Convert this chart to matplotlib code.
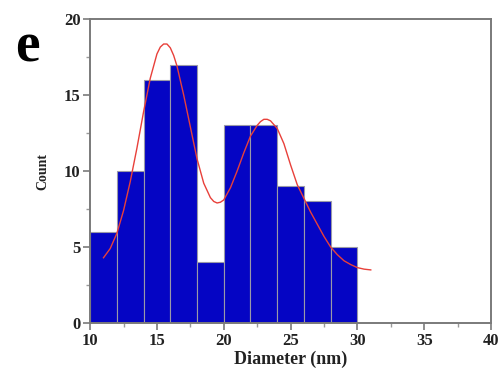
"""
Histogram of particle diameters with a two-peak fit curve.
"""
import matplotlib
matplotlib.use("Agg")
import matplotlib.pyplot as plt
from matplotlib.ticker import MultipleLocator

# histogram bins (nm) and counts
bin_left = [10, 12, 14, 16, 18, 20, 22, 24, 26, 28]
counts = [6, 10, 16, 17, 4, 13, 13, 9, 8, 5]
bin_width = 2

# fitted curve
fit_x = [11.0, 11.5, 12.0, 12.5, 13.0, 13.5, 14.0, 14.5, 15.0, 15.25,
         15.5, 15.75, 16.0, 16.25, 16.5, 17.0, 17.5, 18.0, 18.5, 19.0,
         19.25, 19.5, 19.75, 20.0, 20.5, 21.0, 21.5, 22.0, 22.5, 22.75,
         23.0, 23.25, 23.5, 24.0, 24.5, 25.0, 25.5, 26.0, 26.5, 27.0,
         27.5, 28.0, 28.5, 29.0, 29.5, 30.0, 30.5, 31.0]
fit_y = [4.3, 4.9, 5.9, 7.4, 9.3, 11.5, 13.9, 16.1, 17.7, 18.15,
         18.35, 18.35, 18.1, 17.6, 16.9, 15.0, 12.9, 10.8, 9.2, 8.25,
         8.0, 7.9, 7.95, 8.1, 8.9, 10.0, 11.2, 12.3, 13.0, 13.25,
         13.4, 13.4, 13.3, 12.8, 11.8, 10.4, 9.1, 8.2, 7.3, 6.5,
         5.7, 5.0, 4.5, 4.1, 3.85, 3.65, 3.55, 3.5]

plt.rcParams['font.family'] = ['Liberation Serif', 'DejaVu Serif']
plt.rcParams['font.weight'] = 'bold'

fig = plt.figure(figsize=(4.98, 3.71), dpi=100)
ax = fig.add_axes([0.181, 0.129, 0.805, 0.82])

ax.bar(bin_left, counts, width=bin_width, align='edge', color='#0505c4',
       edgecolor='#9a9aa8', linewidth=0.8, zorder=2)
ax.plot(fit_x, fit_y, color='#e8403a', linewidth=1.0, zorder=3)

ax.set_xlim(10, 40)
ax.set_ylim(0, 20)
ax.xaxis.set_major_locator(MultipleLocator(5))
ax.xaxis.set_minor_locator(MultipleLocator(2.5))
ax.yaxis.set_major_locator(MultipleLocator(5))
ax.yaxis.set_minor_locator(MultipleLocator(2.5))

for sp in ax.spines.values():
    sp.set_color('#7a7a7a')
    sp.set_linewidth(1.4)
ax.tick_params(which='major', direction='out', length=5, width=1.2,
               color='#7a7a7a', labelsize=12, labelcolor='#222222', pad=2)
ax.tick_params(which='minor', direction='out', length=3, width=1.0,
               color='#9a9a9a')

ax.set_xlabel('Diameter (nm)', fontsize=13, fontweight='bold',
              color='#222222', labelpad=1)
ax.set_ylabel('Count', fontsize=10, fontweight='bold',
              color='#222222', labelpad=10)

fig.text(0.054, 0.871, 'e', fontsize=40, fontweight='bold',
         ha='center', va='center', color='black')

fig.savefig('out.png', dpi=100)
